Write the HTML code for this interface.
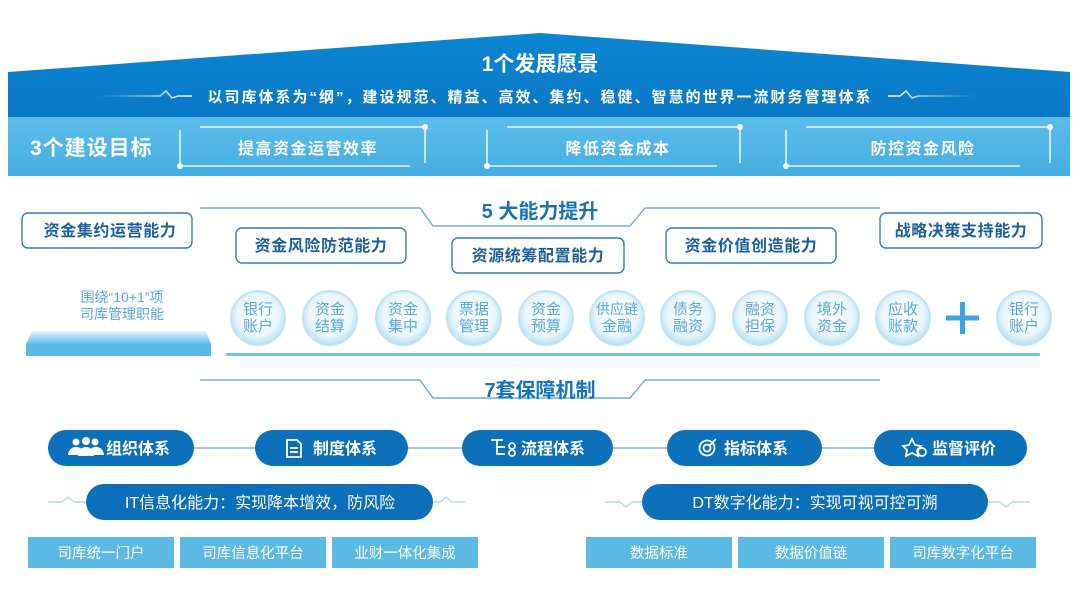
<!DOCTYPE html>
<html><head><meta charset="utf-8"><style>
html,body{margin:0;padding:0;background:#fff;}
svg{display:block;}
text{font-family:"Liberation Sans","Noto Sans CJK SC",sans-serif;}
</style></head><body>
<svg width="1080" height="607" viewBox="0 0 1080 607" xmlns="http://www.w3.org/2000/svg">
<defs>
<linearGradient id="roof" x1="0" y1="0" x2="0" y2="1"><stop offset="0" stop-color="#0b86d2"/><stop offset="1" stop-color="#0a78c6"/></linearGradient>
<linearGradient id="band" x1="0" y1="0" x2="0" y2="1"><stop offset="0" stop-color="#5cbdea"/><stop offset="1" stop-color="#45ade2"/></linearGradient>
<radialGradient id="circ" cx="0.5" cy="0.45" r="0.55"><stop offset="0" stop-color="#ffffff"/><stop offset="0.7" stop-color="#eaf6fc"/><stop offset="1" stop-color="#b7def2"/></radialGradient>
<linearGradient id="plat" x1="0" y1="0" x2="0" y2="1"><stop offset="0" stop-color="#e8f6fd"/><stop offset="0.5" stop-color="#9fd7f1"/><stop offset="1" stop-color="#62bfe8"/></linearGradient>
<linearGradient id="fadeL" x1="0" x2="1"><stop offset="0" stop-color="#fff" stop-opacity="0"/><stop offset="1" stop-color="#fff"/></linearGradient>
<linearGradient id="fadeR" x1="0" x2="1"><stop offset="0" stop-color="#fff"/><stop offset="1" stop-color="#fff" stop-opacity="0"/></linearGradient>
</defs>

<!-- roof -->
<polygon points="8,72 540,33 1070,72 1070,117 8,117" fill="url(#roof)"/>
<rect x="8" y="117" width="1062" height="59" fill="url(#band)"/>
<text x="540" y="71" text-anchor="middle" font-size="21" font-weight="bold" fill="#fff">1个发展愿景</text>
<text x="540" y="102" text-anchor="middle" font-size="15" font-weight="bold" fill="#fff" letter-spacing="2">以司库体系为“纲”，建设规范、精益、高效、集约、稳健、智慧的世界一流财务管理体系</text>
<path d="M100,96 H160 L166,91 L172,98 L178,96 H192" stroke="url(#fadeL)" stroke-width="1.6" fill="none"/>
<path d="M888,96 H900 L906,91 L912,98 L918,96 H975" stroke="url(#fadeR)" stroke-width="1.6" fill="none"/>

<text x="30" y="155" font-size="21" font-weight="bold" fill="#fff" letter-spacing="1">3个建设目标</text>
<g stroke="#ffffff" stroke-opacity="0.85" stroke-width="1.6" fill="none">
<path d="M180,130 V166 H410"/><path d="M200,127 H425 V163"/>
<path d="M487,130 V166 H717"/><path d="M507,127 H740 V163"/>
<path d="M786,130 V166 H1020"/><path d="M806,127 H1050 V163"/>
</g>
<g fill="#fff"><circle cx="180" cy="166" r="3"/><circle cx="425" cy="127" r="3"/><circle cx="487" cy="166" r="3"/><circle cx="740" cy="127" r="3"/><circle cx="786" cy="166" r="3"/><circle cx="1050" cy="127" r="3"/></g>
<g font-size="16" font-weight="bold" fill="#fff" text-anchor="middle" letter-spacing="1.5">
<text x="308" y="154">提高资金运营效率</text><text x="618" y="154">降低资金成本</text><text x="923" y="154">防控资金风险</text>
</g>

<!-- 5大能力 header -->
<path d="M200,208 H420 L433,226 H630 L645,208 H880" stroke="#2a88c8" stroke-width="1.2" fill="none" stroke-opacity="0.8"/>
<text x="540" y="218" text-anchor="middle" font-size="20" font-weight="bold" fill="#1673b9">5 大能力提升</text>

<!-- ability boxes -->
<g stroke="#2a7fbd" stroke-width="1.4" fill="#fff">
<rect x="22" y="213" width="170" height="35" rx="6"/>
<rect x="236" y="228" width="170" height="35" rx="6"/>
<rect x="452" y="238" width="172" height="35" rx="6"/>
<rect x="666" y="228" width="170" height="35" rx="6"/>
<rect x="880" y="213" width="162" height="35" rx="6"/>
</g>
<g font-size="16" font-weight="bold" fill="#1b5f9c" text-anchor="middle" letter-spacing="0.6">
<text x="110" y="236">资金集约运营能力</text>
<text x="321" y="251">资金风险防范能力</text>
<text x="538" y="261">资源统筹配置能力</text>
<text x="751" y="251">资金价值创造能力</text>
<text x="961" y="236">战略决策支持能力</text>
</g>

<!-- left platform -->
<g font-size="14" fill="#58a7d9" text-anchor="middle">
<text x="122" y="302">围绕“10+1”项</text><text x="122" y="319">司库管理职能</text>
</g>
<polygon points="32,331 206,331 211,344 26,344" fill="url(#plat)"/>
<rect x="26" y="344" width="185" height="12" fill="#5ab9e6"/>

<!-- circles -->
<g stroke="#bfe3f4" stroke-width="2" fill="url(#circ)">
<circle cx="258" cy="318" r="27"/><circle cx="330" cy="318" r="27"/><circle cx="403" cy="318" r="27"/><circle cx="474" cy="318" r="27"/><circle cx="546" cy="318" r="27"/><circle cx="617" cy="318" r="27"/><circle cx="688" cy="318" r="27"/><circle cx="760" cy="318" r="27"/><circle cx="832" cy="318" r="27"/><circle cx="903" cy="318" r="27"/><circle cx="1024" cy="318" r="27"/>
</g>
<g font-size="15" fill="#58a9d8" text-anchor="middle">
<text x="258" y="314">银行</text><text x="258" y="331">账户</text>
<text x="330" y="314">资金</text><text x="330" y="331">结算</text>
<text x="403" y="314">资金</text><text x="403" y="331">集中</text>
<text x="474" y="314">票据</text><text x="474" y="331">管理</text>
<text x="546" y="314">资金</text><text x="546" y="331">预算</text>
<text x="617" y="314" font-size="14">供应链</text><text x="617" y="331">金融</text>
<text x="688" y="314">债务</text><text x="688" y="331">融资</text>
<text x="760" y="314">融资</text><text x="760" y="331">担保</text>
<text x="832" y="314">境外</text><text x="832" y="331">资金</text>
<text x="903" y="314">应收</text><text x="903" y="331">账款</text>
<text x="1024" y="314">银行</text><text x="1024" y="331">账户</text>
</g>
<rect x="960" y="302" width="5" height="32" fill="#3aa5e0"/><rect x="946" y="315.5" width="33" height="5" fill="#3aa5e0"/>
<rect x="226" y="353" width="814" height="3" rx="1.5" fill="#6cc3ec"/>

<!-- 7套 header -->
<path d="M200,380 H420 L433,398 H630 L645,380 H880" stroke="#2a88c8" stroke-width="1.2" fill="none" stroke-opacity="0.8"/>
<text x="540" y="397" text-anchor="middle" font-size="20" font-weight="bold" fill="#1673b9">7套保障机制</text>

<!-- pills -->
<g stroke="#7fb5da" stroke-width="1.5"><line x1="194" y1="448" x2="255" y2="448"/><line x1="408" y1="448" x2="462" y2="448"/><line x1="613" y1="448" x2="667" y2="448"/><line x1="822" y1="448" x2="874" y2="448"/></g>
<g fill="#0c6fba">
<rect x="48" y="430" width="146" height="36" rx="18"/>
<rect x="255" y="430" width="153" height="36" rx="18"/>
<rect x="462" y="430" width="151" height="36" rx="18"/>
<rect x="667" y="430" width="155" height="36" rx="18"/>
<rect x="874" y="430" width="153" height="36" rx="18"/>
</g>
<g font-size="16" font-weight="bold" fill="#fff">
<text x="106" y="454">组织体系</text>
<text x="313" y="454">制度体系</text>
<text x="521" y="454">流程体系</text>
<text x="724" y="454">指标体系</text>
<text x="932" y="454">监督评价</text>
</g>
<g fill="#fff"><circle cx="76" cy="442" r="3.5"/><circle cx="86" cy="441" r="4"/><circle cx="95" cy="442" r="3.5"/><path d="M68,455 q1,-8 8,-8 q7,0 8,8z"/><path d="M78,456 q1,-9 8,-9 q7,0 8,9z"/><path d="M88,455 q1,-8 8,-8 q7,0 8,8z"/></g>
<g stroke="#fff" stroke-width="1.8" fill="none">
<path d="M287,440 h10 l4,4 v13 h-14z"/><line x1="290" y1="448" x2="298" y2="448"/><line x1="290" y1="452" x2="298" y2="452"/>
<path d="M491,440 h12 M497,440 v14 h8 M497,447 h8"/><circle cx="512" cy="446" r="3"/><circle cx="512" cy="453" r="3"/>
<circle cx="707" cy="448" r="7.5"/><circle cx="707" cy="448" r="3.5"/><path d="M709,446 l7,-7"/>
<path d="M912,439 l3,6 6,1 -4,4 1,6 -6,-3 -6,3 1,-6 -4,-4 6,-1z"/><circle cx="922" cy="452" r="4"/>
</g>

<!-- IT / DT -->
<g stroke="#b9d5e8" stroke-width="1.4" fill="none">
<path d="M48,502 H62 L68,497 L74,502 H86"/><path d="M433,502 H440 L446,497 L452,502 H465"/>
<path d="M605,502 H620 L626,507 L632,502 H642"/><path d="M988,502 H1000 L1006,507 L1012,502 H1030"/>
</g>
<rect x="86" y="484" width="347" height="36" rx="18" fill="#0c6fba"/>
<rect x="642" y="484" width="346" height="36" rx="18" fill="#0c6fba"/>
<text x="260" y="508" text-anchor="middle" font-size="16" fill="#fff">IT信息化能力：实现降本增效，防风险</text>
<text x="815" y="508" text-anchor="middle" font-size="16" fill="#fff">DT数字化能力：实现可视可控可溯</text>

<!-- bottom boxes -->
<g fill="#5cb9e4">
<rect x="28" y="537" width="146" height="31"/><rect x="180" y="537" width="146" height="31"/><rect x="332" y="537" width="146" height="31"/>
<rect x="586" y="537" width="146" height="31"/><rect x="738" y="537" width="146" height="31"/><rect x="890" y="537" width="146" height="31"/>
</g>
<g font-size="14.5" fill="#fff" text-anchor="middle">
<text x="101" y="558">司库统一门户</text><text x="253" y="558">司库信息化平台</text><text x="405" y="558">业财一体化集成</text>
<text x="659" y="558">数据标准</text><text x="811" y="558">数据价值链</text><text x="963" y="558">司库数字化平台</text>
</g>
</svg>
</body></html>
